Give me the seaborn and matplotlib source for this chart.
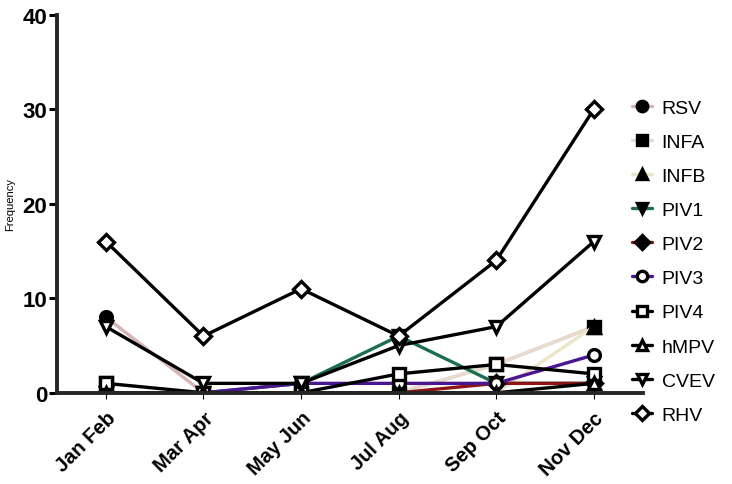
import pandas as pd
import seaborn as sns
import matplotlib.pyplot as plt
from matplotlib.lines import Line2D

# bimonthly virus detections
periods = ['Jan Feb', 'Mar Apr', 'May Jun', 'Jul Aug', 'Sep Oct', 'Nov Dec']
viruses = ['RSV', 'INFA', 'INFB', 'PIV1', 'PIV2', 'PIV3', 'PIV4', 'hMPV', 'CVEV', 'RHV']

rsv = [8, 0, 0, 0, 3, 7]
infa = [1, 0, 0, 0, 3, 7]
infb = [0, 0, 0, 0, 0, 7]
piv1 = [0, 0, 1, 6, 1, 1]
piv2 = [0, 0, 0, 0, 1, 1]
piv3 = [0, 0, 1, 1, 1, 4]
piv4 = [1, 0, 0, 2, 3, 2]
hmpv = [0, 0, 0, 0, 0, 1]
cvev = [7, 1, 1, 5, 7, 16]
rhv = [16, 6, 11, 6, 14, 30]

series = [rsv, infa, infb, piv1, piv2, piv3, piv4, hmpv, cvev, rhv]

colors = {'RSV': '#d8b4b4', 'INFA': '#e8dcd0', 'INFB': '#ebe6c8', 'PIV1': '#1b6e52',
          'PIV2': '#8e1414', 'PIV3': '#4a1690', 'PIV4': 'black', 'hMPV': 'black',
          'CVEV': 'black', 'RHV': 'black'}
markers = {'RSV': 'o', 'INFA': 's', 'INFB': '^', 'PIV1': 'v', 'PIV2': 'D',
           'PIV3': 'o', 'PIV4': 's', 'hMPV': '^', 'CVEV': 'v', 'RHV': 'D'}
filled = {'RSV': True, 'INFA': True, 'INFB': True, 'PIV1': True, 'PIV2': True,
          'PIV3': False, 'PIV4': False, 'hMPV': False, 'CVEV': False, 'RHV': False}

rows = []
for name, vals in zip(viruses, series):
    for i, v in enumerate(vals):
        rows.append({'period': i, 'virus': name, 'count': v})
df = pd.DataFrame(rows)

sns.set_style('ticks')
plt.rcParams['font.family'] = ['Liberation Sans', 'DejaVu Sans']
plt.rcParams['text.color'] = 'black'
plt.rcParams['xtick.color'] = 'black'
plt.rcParams['ytick.color'] = 'black'
plt.rcParams['axes.labelcolor'] = 'black'

fig = plt.figure(figsize=(7.32, 4.85), dpi=100)
ax = fig.add_axes([0.078, 0.188, 0.8, 0.78])

for name in viruses:
    sub = df[df['virus'] == name]
    ms = 8.5 if markers[name] != 'D' else 8
    sns.lineplot(data=sub, x='period', y='count', ax=ax, color=colors[name],
                 linewidth=2.4, marker=markers[name], markersize=ms,
                 markerfacecolor='black' if filled[name] else 'white',
                 markeredgecolor='black', markeredgewidth=2.4, legend=False)

ax.set_xlim(-0.5, 5.5)
ax.set_ylim(0, 40)
ax.set_yticks([0, 10, 20, 30, 40])
ax.set_xticks(range(len(periods)))
ax.set_xticklabels(periods, rotation=45, ha='right', rotation_mode='anchor',
                   fontsize=14.5, fontweight='bold')
for lab in ax.get_yticklabels():
    lab.set_fontsize(16)
    lab.set_fontweight('bold')
ax.set_xlabel('')
ax.set_ylabel('Frequency', fontsize=8)
ax.yaxis.set_label_coords(-0.072, 0.5)
ax.tick_params(axis='y', width=2.2, length=6, pad=1)
ax.tick_params(axis='x', width=0.8, length=4, pad=7)
for s in ['left', 'bottom']:
    ax.spines[s].set_linewidth(2.8)
sns.despine(ax=ax)

handles = [Line2D([0], [0], color=colors[n], linewidth=2.4, marker=markers[n],
                  markersize=7.5, markerfacecolor='black' if filled[n] else 'white',
                  markeredgecolor='black', markeredgewidth=2.4) for n in viruses]
fig.legend(handles, viruses, loc='upper left', bbox_to_anchor=(0.84, 0.83),
           frameon=False, fontsize=14, handlelength=1.0, handletextpad=0.5,
           labelspacing=0.85)

fig.savefig('out.png', dpi=100)
